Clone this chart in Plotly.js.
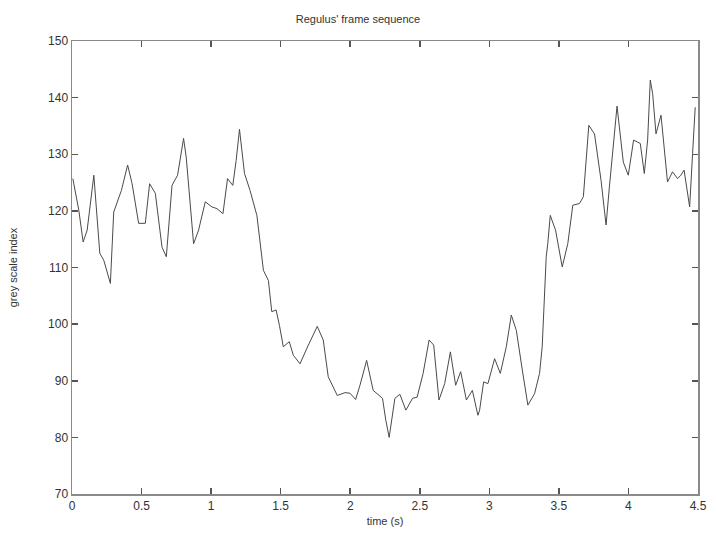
<!DOCTYPE html>
<html>
<head>
<meta charset="utf-8">
<script src="https://cdn.plot.ly/plotly-3.0.1.min.js"></script>
<style>html,body{margin:0;padding:0;background:#fff;}#chart{width:716px;height:539px;}</style>
</head>
<body>
<div id="chart"></div>
<script>
const timeS = [0.006,0.037,0.049,0.080,0.109,0.157,0.173,0.200,0.228,0.276,0.300,0.355,0.400,0.432,0.479,0.527,0.558,0.599,0.647,0.678,0.719,0.759,0.802,0.821,0.874,0.910,0.958,1.006,1.042,1.085,1.118,1.156,1.180,1.204,1.240,1.280,1.329,1.376,1.412,1.436,1.467,1.491,1.519,1.562,1.591,1.639,1.699,1.763,1.806,1.842,1.907,1.962,1.998,2.039,2.070,2.118,2.165,2.232,2.256,2.280,2.321,2.357,2.400,2.448,2.481,2.524,2.567,2.600,2.638,2.679,2.720,2.758,2.794,2.835,2.878,2.918,2.930,2.959,2.990,3.038,3.079,3.122,3.158,3.194,3.237,3.277,3.325,3.361,3.380,3.409,3.420,3.438,3.476,3.524,3.564,3.600,3.648,3.676,3.715,3.756,3.803,3.839,3.863,3.894,3.918,3.963,3.999,4.037,4.085,4.114,4.138,4.157,4.174,4.198,4.234,4.281,4.317,4.353,4.377,4.400,4.440,4.461,4.480];
const greyIndex = [125.7,121.9,120.1,114.5,116.6,126.3,121.3,112.5,111.3,107.2,119.8,123.6,128.1,124.8,117.8,117.8,124.8,123.1,113.6,111.9,124.5,126.3,132.8,129.5,114.2,116.6,121.6,120.7,120.4,119.5,125.7,124.5,128.9,134.4,126.6,123.6,119.2,109.5,107.7,102.2,102.5,99.8,96.0,96.9,94.5,93.0,96.3,99.6,97.2,90.7,87.4,87.9,87.8,86.7,89.2,93.6,88.3,86.9,83.0,80.0,86.9,87.6,84.8,86.9,87.1,91.3,97.2,96.3,86.6,89.5,95.1,89.2,91.6,86.6,88.3,83.9,84.8,89.8,89.5,93.9,91.3,96.0,101.6,98.9,91.9,85.7,87.7,91.3,96.0,111.9,114.2,119.2,116.6,110.1,114.2,121.0,121.3,122.5,135.1,133.6,125.4,117.5,124.2,132.5,138.5,128.6,126.3,132.5,131.9,126.6,132.5,143.1,140.7,133.6,136.9,125.1,126.9,125.7,126.3,127.2,120.7,130.1,138.3];
const xTicks = [0,0.5,1,1.5,2,2.5,3,3.5,4,4.5];
const xTickText = ['0','0.5','1','1.5','2','2.5','3','3.5','4','4.5'];
const yTicks = [70,80,90,100,110,120,130,140,150];

const font = {family: 'Liberation Sans, Arial, sans-serif', size: 12, color: '#333'};
const axisCommon = {
  showgrid: false, zeroline: false, showline: true, mirror: 'ticks',
  linecolor: '#8a8a8a', linewidth: 1.5, ticks: 'inside', ticklen: 6,
  tickcolor: '#555', tickwidth: 1.5, tickfont: font
};
Plotly.newPlot('chart', [{
  x: timeS, y: greyIndex, type: 'scatter', mode: 'lines',
  line: {color: '#4a4a4a', width: 1}, hoverinfo: 'none'
}], {
  width: 716, height: 539,
  margin: {l: 71.5, r: 18, t: 41, b: 45},
  paper_bgcolor: '#fff', plot_bgcolor: '#fff',
  showlegend: false,
  title: {text: "Regulus' frame sequence", font: {family: font.family, size: 11, color: '#333'}, x: 0.5, xanchor: 'center', y: 0.965, yanchor: 'middle'},
  xaxis: Object.assign({}, axisCommon, {
    range: [0, 4.5], tickvals: xTicks, ticktext: xTickText,
    title: {text: 'time (s)', font: {family: font.family, size: 11, color: '#333'}, standoff: 5}
  }),
  yaxis: Object.assign({}, axisCommon, {
    range: [70, 150], tickvals: yTicks,
    title: {text: 'grey scale index', font: {family: font.family, size: 11, color: '#333'}, standoff: 28}
  })
}, {staticPlot: true});
</script>
</body>
</html>
